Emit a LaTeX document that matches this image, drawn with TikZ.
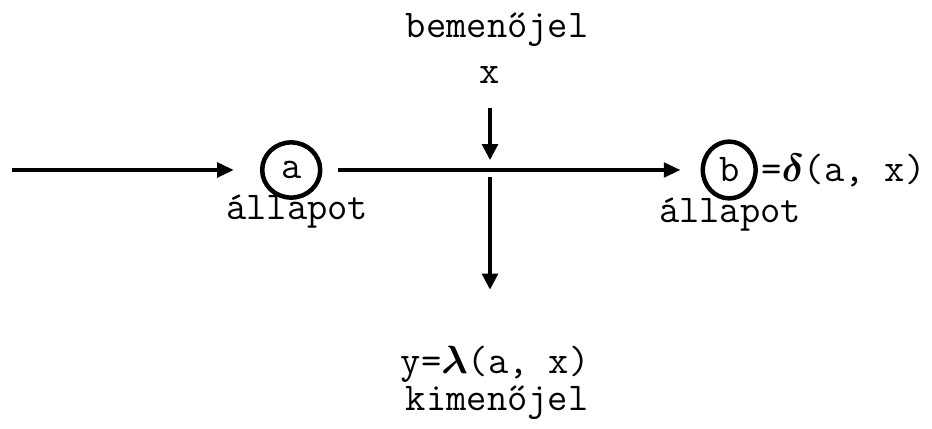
\documentclass[tikz,border=0pt]{standalone}
\usepackage{fix-cm}
\usepackage{amsmath}
\usepackage{fontspec}
\usetikzlibrary{arrows.meta,shapes.geometric,positioning}

\begin{document}
\begin{tikzpicture}[
  font=\ttfamily\fontsize{28}{33}\selectfont,
  state/.style={draw,ellipse,line width=3.2pt,
                minimum width=1.45cm,minimum height=1.38cm,inner sep=0pt},
  lbl/.style={inner sep=0pt},
  arr/.style={-{Triangle[length=0.42cm,width=0.36cm]},line width=2.8pt},
  varr/.style={-{Triangle[length=0.4cm,width=0.4cm]},line width=2.2pt}
]
\useasboundingbox (0,0) rectangle (23.3,10.7);
% --- states ---
\node[state](a) at(7.28,6.45){a};
\node[state,minimum width=1.32cm,minimum height=1.42cm](b) at(18.23,6.45){b};
\node[lbl](sa) at(7.43,5.40){állapot};
\node[lbl](sb) at(18.25,5.33){állapot};
\node[lbl,anchor=base west](delta) at([xshift=0.8cm]b.base){=$\boldsymbol{\delta}$(a, x)};
% --- input / output signal ---
\node[lbl](bem)  at(12.43,9.95){bemenőjel};
\node[lbl](xsig) at(12.25,8.83){x};
\node[lbl](ysig) at(12.38,1.58){y=$\boldsymbol{\lambda}$(a, x)};
\node[lbl](kim)  at(12.43,0.63){kimenőjel};
\coordinate (in)    at(0.30,6.45);
\coordinate (cross) at(12.25,6.45);
% arrows
\draw[arr,shorten >=0.65cm](in)--(a);
\draw[arr,shorten <=0.4cm,shorten >=0.5cm](a)--(b);
\draw[varr,shorten <=0.6cm,shorten >=0.25cm](xsig)--(cross);
\draw[varr,shorten <=0.17cm,shorten >=1.42cm](cross)--(ysig.north -| cross);
\end{tikzpicture}
\end{document}
